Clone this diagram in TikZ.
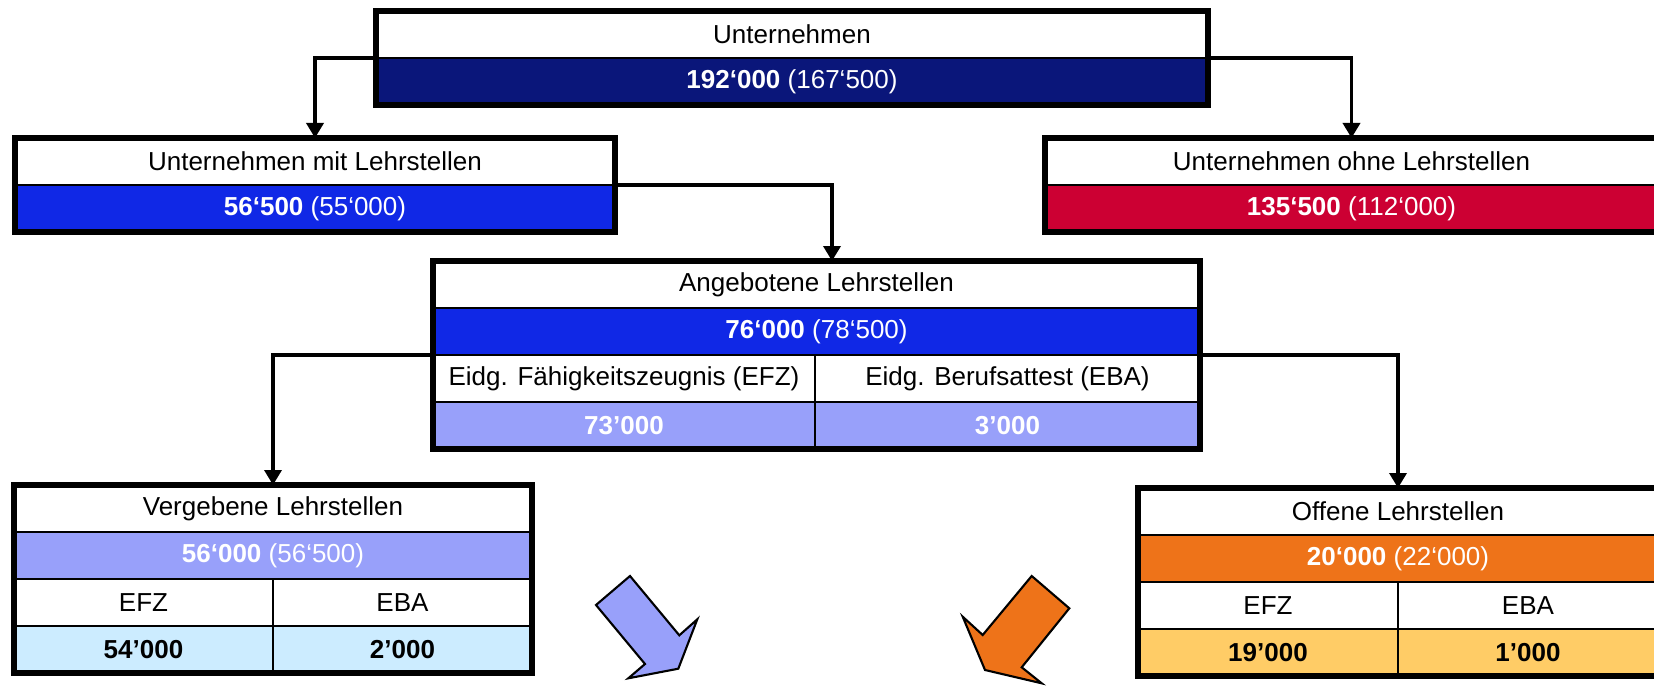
\documentclass[tikz,border=0pt]{standalone}
\usepackage{fontspec}
\setmainfont{Liberation Sans}
\usepackage{tikz}
\usetikzlibrary{positioning,arrows.meta}

\definecolor{navy}{RGB}{10,22,122}
\definecolor{royal}{RGB}{16,40,230}
\definecolor{crimson}{RGB}{204,0,51}
\definecolor{lavender}{RGB}{152,160,250}
\definecolor{paleblue}{RGB}{204,236,255}
\definecolor{signal}{RGB}{238,115,25}
\definecolor{paleorange}{RGB}{255,204,102}

\tikzset{
	cell/.style={draw=black, line width=0.7pt, minimum height=0.94cm, inner sep=0pt, outer sep=0pt, align=center},
	frame/.style={draw=black, line width=3.2pt},
	conn/.style={draw=black, line width=2pt, -{Triangle[width=0.34cm,length=0.3cm]}},
	blockarrow/.style={draw=black, line width=1.2pt, line join=miter}
}

\begin{document}
\begin{tikzpicture}[font=\fontsize{14.8}{17}\selectfont]
	\useasboundingbox (0,0) rectangle (33.08,13.70);

	% Unternehmen
	\node[cell, minimum width=16.64cm, anchor=north west] (u-title) at (7.52,13.48) {Unternehmen};
	\node[cell, minimum width=16.64cm, fill=navy, text=white, below=0pt of u-title] (u-val) {\textbf{192‘000} (167‘500)};
	\draw[frame] (u-title.north west) rectangle (u-val.south east);

	% mit / ohne Lehrstellen
	\node[cell, minimum width=12cm, anchor=north west] (mit-title) at (0.30,10.94) {Unternehmen mit Lehrstellen};
	\node[cell, minimum width=12cm, fill=royal, text=white, below=0pt of mit-title] (mit-val) {\textbf{56‘500} (55‘000)};
	\draw[frame] (mit-title.north west) rectangle (mit-val.south east);

	\node[cell, minimum width=12.26cm, anchor=north west] (ohne-title) at (20.90,10.94) {Unternehmen ohne Lehrstellen};
	\node[cell, minimum width=12.26cm, fill=crimson, text=white, below=0pt of ohne-title] (ohne-val) {\textbf{135‘500} (112‘000)};
	\draw[frame] (ohne-title.north west) rectangle (ohne-val.south east);

	% Angebotene Lehrstellen
	\node[cell, minimum width=15.34cm, anchor=north west] (ang-title) at (8.66,8.48) {Angebotene Lehrstellen};
	\node[cell, minimum width=15.34cm, fill=royal, text=white, below=0pt of ang-title] (ang-val) {\textbf{76‘000} (78‘500)};
	\node[cell, minimum width=7.64cm, anchor=north west] (ang-efz) at (ang-val.south west) {Eidg. Fähigkeitszeugnis (EFZ)};
	\node[cell, minimum width=7.70cm, right=0pt of ang-efz] (ang-eba) {Eidg. Berufsattest (EBA)};
	\node[cell, minimum width=7.64cm, fill=lavender, text=white, below=0pt of ang-efz] (ang-efzval) {\textbf{73’000}};
	\node[cell, minimum width=7.70cm, fill=lavender, text=white, below=0pt of ang-eba] (ang-ebaval) {\textbf{3’000}};
	\draw[frame] (ang-title.north west) rectangle (ang-ebaval.south east);

	% Vergebene Lehrstellen
	\node[cell, minimum width=10.36cm, anchor=north west] (ver-title) at (0.28,4.00) {Vergebene Lehrstellen};
	\node[cell, minimum width=10.36cm, fill=lavender, text=white, below=0pt of ver-title] (ver-val) {\textbf{56‘000} (56‘500)};
	\node[cell, minimum width=5.18cm, anchor=north west] (ver-efz) at (ver-val.south west) {EFZ};
	\node[cell, minimum width=5.18cm, right=0pt of ver-efz] (ver-eba) {EBA};
	\node[cell, minimum width=5.18cm, fill=paleblue, below=0pt of ver-efz] (ver-efzval) {\textbf{54’000}};
	\node[cell, minimum width=5.18cm, fill=paleblue, below=0pt of ver-eba] (ver-ebaval) {\textbf{2’000}};
	\draw[frame] (ver-title.north west) rectangle (ver-ebaval.south east);

	% Offene Lehrstellen
	\node[cell, minimum width=10.40cm, anchor=north west] (off-title) at (22.76,3.94) {Offene Lehrstellen};
	\node[cell, minimum width=10.40cm, fill=signal, text=white, below=0pt of off-title] (off-val) {\textbf{20‘000} (22‘000)};
	\node[cell, minimum width=5.20cm, anchor=north west] (off-efz) at (off-val.south west) {EFZ};
	\node[cell, minimum width=5.20cm, right=0pt of off-efz] (off-eba) {EBA};
	\node[cell, minimum width=5.20cm, fill=paleorange, below=0pt of off-efz] (off-efzval) {\textbf{19’000}};
	\node[cell, minimum width=5.20cm, fill=paleorange, below=0pt of off-eba] (off-ebaval) {\textbf{1’000}};
	\draw[frame] (off-title.north west) rectangle (off-ebaval.south east);

	% connectors
	\draw[conn] (u-title.south west) -| (mit-title.north);
	\draw[conn] (u-title.south east) -| (ohne-title.north);
	\draw[conn] (mit-title.south east) -| ([xshift=0.31cm]ang-title.north);
	\draw[conn] (ang-val.south west) -| (ver-title.north);
	\draw[conn] (ang-val.south east) -| (off-title.north);

	% block arrows
	\draw[blockarrow, fill=lavender] (11.92,1.60) -- (12.60,2.18) -- (13.586,0.994) -- (13.946,1.314)
		-- (13.566,0.326) -- (12.566,0.134) -- (12.90,0.42) -- cycle;
	\draw[blockarrow, fill=signal] (20.634,2.18) -- (21.386,1.534) -- (20.434,0.354) -- (20.834,0.034)
		-- (19.70,0.30) -- (19.254,1.366) -- (19.654,1.00) -- cycle;
\end{tikzpicture}
\end{document}
